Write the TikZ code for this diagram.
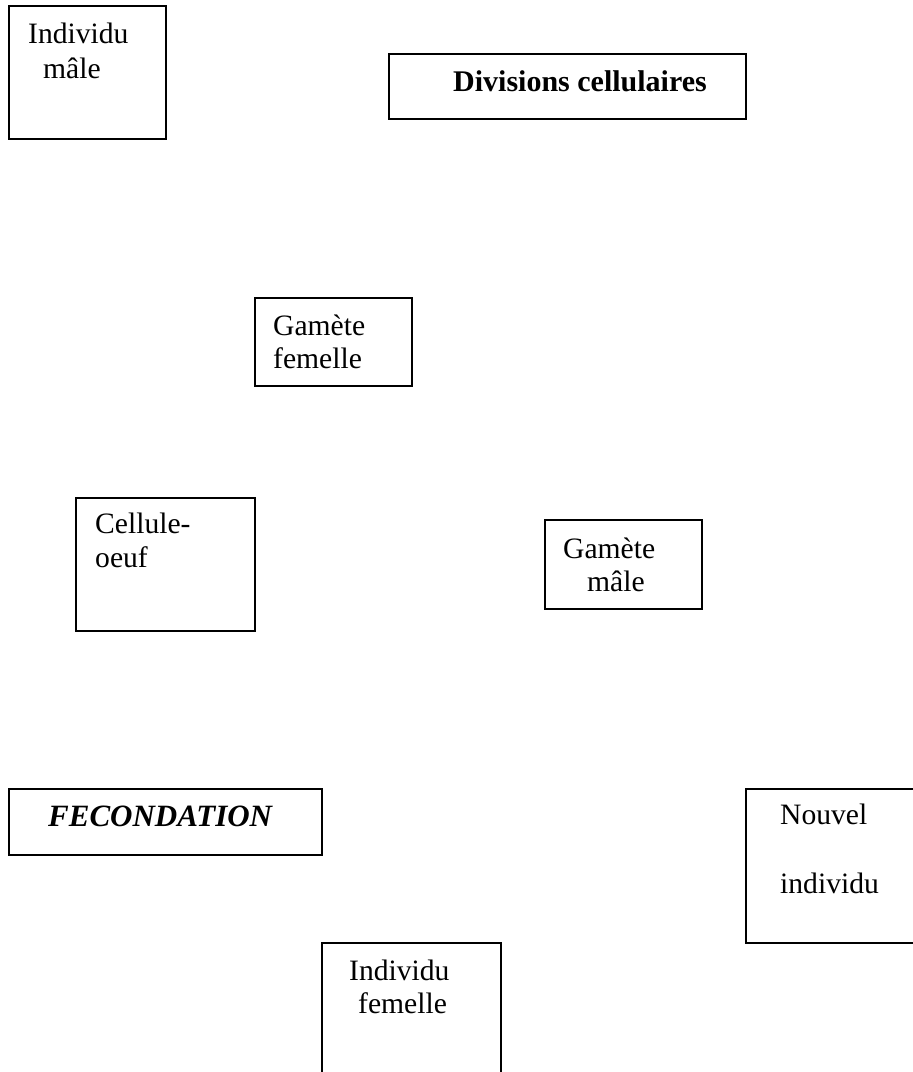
\documentclass[tikz,border=0pt]{standalone}
\usepackage{fontspec}
\setmainfont{Liberation Serif}
\begin{document}
\begin{tikzpicture}[x=1pt,y=-1pt,
  box/.style={draw=black, line width=1.8pt, inner sep=0pt, anchor=north west},
  txt/.style={anchor=base west, inner sep=0pt, font=\fontsize{29.6}{35}\selectfont}]
\path[use as bounding box] (0,0) rectangle (913,1072);
\clip (0,0) rectangle (913,1072);
% Individu male
\node[box, minimum width=157pt, minimum height=133pt] (b1) at (8,5) {};
\node[txt] (t1a) at (28,43) {Individu};
\node[txt] (t1b) at (43,78) {mâle};
% Divisions cellulaires
\node[box, minimum width=357pt, minimum height=65pt] (b2) at (388,53) {};
\node[txt, font=\fontsize{30}{35}\selectfont\bfseries] (t2) at (453,91) {Divisions cellulaires};
% Gamete femelle
\node[box, minimum width=157pt, minimum height=88pt] (b3) at (254,297) {};
\node[txt] (t3a) at (273,335) {Gamète};
\node[txt] (t3b) at (273,368) {femelle};
% Cellule-oeuf
\node[box, minimum width=179pt, minimum height=133pt] (b4) at (75,497) {};
\node[txt] (t4a) at (95,533) {Cellule-};
\node[txt] (t4b) at (95,567) {oeuf};
% Gamete male
\node[box, minimum width=157pt, minimum height=89pt] (b5) at (544,519) {};
\node[txt] (t5a) at (563,558) {Gamète};
\node[txt] (t5b) at (587,591) {mâle};
% FECONDATION
\node[box, minimum width=313pt, minimum height=66pt] (b6) at (8,788) {};
\node[txt, font=\fontsize{31}{35}\selectfont\bfseries\itshape] (t6) at (48,826) {FECONDATION};
% Nouvel individu
\node[box, minimum width=200pt, minimum height=154pt] (b7) at (745,788) {};
\node[txt] (t7a) at (780,824) {Nouvel};
\node[txt] (t7b) at (780,893) {individu};
% Individu femelle
\node[box, minimum width=179pt, minimum height=160pt] (b8) at (321,942) {};
\node[txt] (t8a) at (349,980) {Individu};
\node[txt] (t8b) at (358,1013) {femelle};
\end{tikzpicture}
\end{document}
